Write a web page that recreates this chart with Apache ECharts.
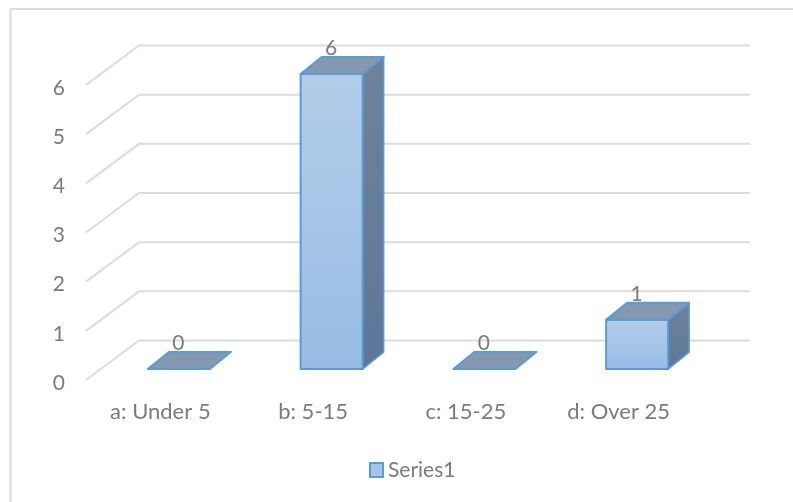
<!DOCTYPE html>
<html><head><meta charset="utf-8">
<style>html,body{margin:0;padding:0;background:#fff}#c{width:793px;height:502px}</style>
<script src="https://cdn.jsdelivr.net/npm/echarts@6/dist/echarts.min.js"></script>
</head><body><div id="c"></div>
<script>
const categories = ['a: Under 5', 'b: 5-15', 'c: 15-25', 'd: Over 25'];
const seriesName = 'Series1';
const values = [0, 6, 0, 1];
const yTicks = [0, 1, 2, 3, 4, 5, 6];

const FONT = 'Lato, "Open Sans", sans-serif';
const GREY = '#7b7b7b';
const DEPTH_X = 53, DEPTH_Y = 39.5;      // wall depth
const BAR_W = 62, BAR_DX = 21, BAR_DY = 17; // bar size
const BAR_OFF_X = 15.5, BAR_OFF_Y = 11;  // bar front inset from floor front edge
const BLUE = '#5b9bd5';

const chart = echarts.init(document.getElementById('c'), null, {renderer: 'canvas'});

function grad(c0, c1) {
  return new echarts.graphic.LinearGradient(0, 0, 0, 1, [{offset: 0, color: c0}, {offset: 1, color: c1}]);
}
function renderGrid(params, api) {
  const v = api.value(0);
  const p0 = api.coord([0, v]);
  const left = params.coordSys.x;
  const right = left + params.coordSys.width;
  const y = p0[1];
  return {
    type: 'polyline', silent: true,
    shape: {points: [[left, y], [left + DEPTH_X, y - DEPTH_Y], [right + DEPTH_X, y - DEPTH_Y]]},
    style: {stroke: '#dcdcdc', lineWidth: 2, fill: 'none'}
  };
}
function renderBar(params, api) {
  const c = api.coord([api.value(0), api.value(1)]);
  const base = api.coord([api.value(0), 0]);
  const xl = c[0] - BAR_W / 2 + BAR_OFF_X + 1;
  const xr = xl + BAR_W;
  const yt = c[1] - BAR_OFF_Y;
  const yb = base[1] - BAR_OFF_Y;
  const dx = BAR_DX, dy = BAR_DY;
  const children = [];
  const h = yb - yt;
  const edge = {stroke: BLUE, lineWidth: 2, lineJoin: 'round'};
  if (h > 0) {
    children.push({type: 'polygon', shape: {points: [[xr, yt], [xr + dx, yt - dy], [xr + dx, yb - dy], [xr, yb]]},
      style: Object.assign({fill: grad('#6f8299', '#5c7898')}, {stroke: BLUE, lineWidth: 1.6})});
    children.push({type: 'polygon', shape: {points: [[xl, yt], [xr, yt], [xr, yb], [xl, yb]]},
      style: Object.assign({fill: grad('#b3cde9', '#98bce5')}, edge)});
  }
  children.push({type: 'polygon', shape: {points: [[xl, yt], [xr, yt], [xr + dx, yt - dy], [xl + dx, yt - dy]]},
    style: Object.assign({fill: '#8499b0'}, edge)});
  children.push({type: 'text', silent: true, style: {
    x: (xl + xr) / 2 - 0.5, y: yt - 26, text: String(api.value(1)), fill: GREY,
    font: '21px ' + FONT, textAlign: 'center', textVerticalAlign: 'middle'}});
  return {type: 'group', children};
}

chart.setOption({
  animation: false,
  backgroundColor: '#fff',
  graphic: [
    {type: 'line', silent: true, z: -10, shape: {x1: 10, y1: 9, x2: 793, y2: 9}, style: {stroke: '#dedede', lineWidth: 2.2}},
    {type: 'line', silent: true, z: -10, shape: {x1: 10.5, y1: 9, x2: 10.5, y2: 502}, style: {stroke: '#dedede', lineWidth: 2.2}}
  ],
  grid: {left: 86, top: 85, width: 611, height: 295},
  legend: {
    show: true, data: [{name: seriesName, icon: 'rect', itemStyle: {color: '#a5c3e8', borderColor: BLUE, borderWidth: 2}}],
    left: 364, top: 454.5, itemWidth: 13, itemHeight: 14, itemGap: 6,
    textStyle: {color: GREY, fontFamily: FONT, fontSize: 21}
  },
  xAxis: {
    type: 'category', data: categories,
    axisLine: {show: false}, axisTick: {show: false}, splitLine: {show: false},
    axisLabel: {color: GREY, fontFamily: FONT, fontSize: 22, margin: 21, interval: 0,
      padding: [0, 4, 0, 0]}
  },
  yAxis: {
    type: 'value', min: 0, max: 6, interval: 1,
    axisLine: {show: false}, axisTick: {show: false}, splitLine: {show: false},
    axisLabel: {color: GREY, fontFamily: FONT, fontSize: 21, margin: 21, verticalAlign: 'top', lineHeight: 6}
  },
  series: [
    {type: 'custom', name: 'grid', coordinateSystem: 'cartesian2d', silent: true, z: 1,
     data: yTicks.map(v => [v]), encode: {y: 0}, renderItem: renderGrid, legendHoverLink: false},
    {type: 'custom', name: seriesName, coordinateSystem: 'cartesian2d', z: 2,
     data: values.map((v, i) => [i, v]), encode: {x: 0, y: 1}, renderItem: renderBar,
     itemStyle: {color: '#a5c3e8'}}
  ]
});
</script></body></html>
